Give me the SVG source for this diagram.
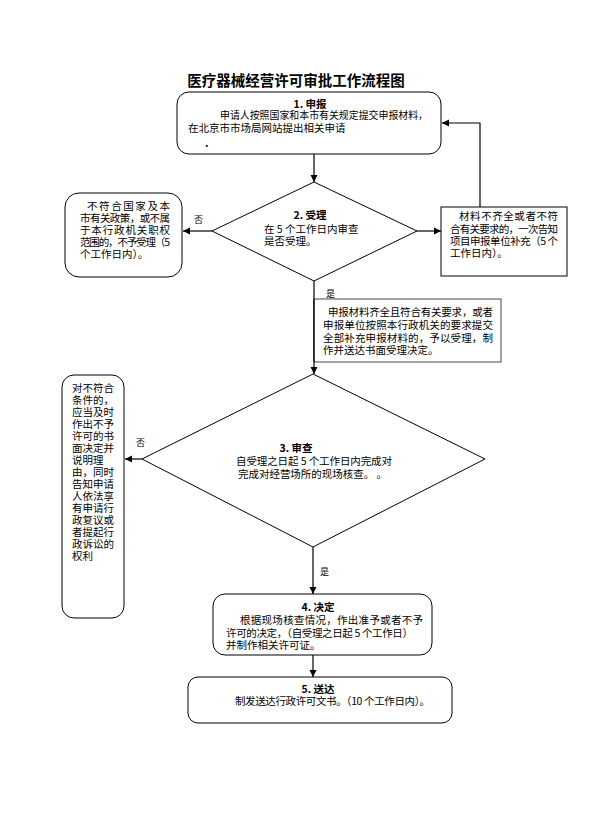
<svg xmlns="http://www.w3.org/2000/svg" width="590" height="838" viewBox="0 0 590 838">
<defs>
<marker id="ah" markerWidth="8" markerHeight="8" refX="7" refY="4" orient="auto" markerUnits="userSpaceOnUse">
<path d="M0,0.5 L7,4 L0,7.5 Z" fill="#000"/>
</marker>
<style>
.t{font-family:"Noto Sans CJK SC","Liberation Sans",sans-serif;font-size:10.5px;fill:#000}
.h{font-family:"Noto Sans CJK SC","Liberation Sans",sans-serif;font-size:10.5px;font-weight:bold;fill:#000}
.s{font-family:"Noto Sans CJK SC","Liberation Sans",sans-serif;font-size:9px;fill:#000}
.b{fill:#fff;stroke:#000;stroke-width:1}
.c{fill:none;stroke:#000;stroke-width:1.2}
.ca{fill:none;stroke:#000;stroke-width:1.2;marker-end:url(#ah)}
</style>
</defs>
<rect width="590" height="838" fill="#fff"/>
<text x="296" y="86" text-anchor="middle" style="font-family:'Noto Sans CJK SC',sans-serif;font-size:14.5px;font-weight:bold">医疗器械经营许可审批工作流程图</text>

<g id="connectors">
<line class="ca" x1="314" y1="154" x2="314" y2="182"/>
<line class="ca" x1="212" y1="231" x2="183" y2="231"/>
<line class="ca" x1="417" y1="231" x2="441" y2="231"/>
<polyline class="ca" points="480,207 480,123 442,123"/>
<line class="ca" x1="314" y1="281" x2="314" y2="374"/>
<line class="ca" x1="142" y1="459" x2="125" y2="459"/>
<line class="ca" x1="313" y1="547" x2="313" y2="594"/>
<line class="ca" x1="313" y1="655" x2="313" y2="677"/>
<text class="s" x="194" y="223">否</text>
<text class="s" x="326" y="297">是</text>
<text class="s" x="136" y="446">否</text>
<text class="s" x="320" y="575">是</text>
</g>

<g id="n1">
<rect class="b" x="177" y="92" width="264" height="62" rx="12"/>
<text class="h" x="310" y="108" text-anchor="middle">1. 申报</text>
<text class="t" x="220" y="119" textLength="208" lengthAdjust="spacingAndGlyphs">申请人按照国家和本市有关规定提交申报材料，</text>
<text class="t" x="188" y="132">在北京市市场局网站提出相关申请</text>
<text class="h" x="205" y="147">.</text>
</g>

<g id="n2">
<polygon class="b" points="314,182 417,231 314,281 212,231"/>
<text class="h" x="310" y="219" text-anchor="middle">2. 受理</text>
<text class="t" x="264" y="233">在 5 个工作日内审查</text>
<text class="t" x="264" y="245">是否受理。</text>
</g>

<g id="n_reject1">
<rect class="b" x="65" y="193" width="117" height="84" rx="14"/>
<text class="t" x="87" y="210" textLength="83">不符合国家及本</text>
<text class="t" x="80" y="222" textLength="90">市有关政策，或不属</text>
<text class="t" x="80" y="234" textLength="90">于本行政机关职权</text>
<text class="t" x="80" y="246" textLength="90">范围的，不予受理（5</text>
<text class="t" x="80" y="258">个工作日内）。</text>
</g>

<g id="n_supplement">
<rect class="b" x="441" y="207" width="126" height="69"/>
<text class="t" x="459" y="220" textLength="99">材料不齐全或者不符</text>
<text class="t" x="450" y="233" textLength="108">合有关要求的，一次告知</text>
<text class="t" x="450" y="245" textLength="108">项目申报单位补充（5 个</text>
<text class="t" x="450" y="257">工作日内）。</text>
</g>

<g id="n_accept">
<rect fill="#fff" stroke="#444" stroke-width="1" x="314" y="299" width="187" height="63"/>
<line class="c" x1="314" y1="299" x2="314" y2="362"/>
<text class="t" x="328" y="316" textLength="165">申报材料齐全且符合有关要求，或者</text>
<text class="t" x="323" y="329" textLength="170">申报单位按照本行政机关的要求提交</text>
<text class="t" x="323" y="342" textLength="170">全部补充申报材料的，予以受理，制</text>
<text class="t" x="323" y="354">作并送达书面受理决定。</text>
</g>

<g id="n3">
<polygon class="b" points="313,374 485,459 313,547 142,459"/>
<text class="h" x="296" y="452" text-anchor="middle">3. 审查</text>
<text class="t" x="236" y="465" textLength="156">自受理之日起 5 个工作日内完成对</text>
<text class="t" x="238" y="478" textLength="149">完成对经营场所的现场核查。 。</text>
</g>

<g id="n_reject2">
<rect class="b" x="62" y="375" width="62" height="243" rx="12"/>
<text class="t" x="72" y="392">对不符合</text>
<text class="t" x="72" y="404">条件的，</text>
<text class="t" x="72" y="416">应当及时</text>
<text class="t" x="72" y="428">作出不予</text>
<text class="t" x="72" y="440">许可的书</text>
<text class="t" x="72" y="452">面决定并</text>
<text class="t" x="72" y="464">说明理</text>
<text class="t" x="72" y="476">由，同时</text>
<text class="t" x="72" y="488">告知申请</text>
<text class="t" x="72" y="500">人依法享</text>
<text class="t" x="72" y="512">有申请行</text>
<text class="t" x="72" y="524">政复议或</text>
<text class="t" x="72" y="536">者提起行</text>
<text class="t" x="72" y="548">政诉讼的</text>
<text class="t" x="72" y="560">权利</text>
</g>

<g id="n4">
<rect class="b" x="213" y="594" width="219" height="61" rx="12"/>
<text class="h" x="318" y="611" text-anchor="middle">4. 决定</text>
<text class="t" x="240" y="624" textLength="183">根据现场核查情况，作出准予或者不予</text>
<text class="t" x="226" y="637" textLength="187">许可的决定，（自受理之日起 5 个工作日）</text>
<text class="t" x="226" y="649">并制作相关许可证。</text>
</g>

<g id="n5">
<rect class="b" x="188" y="677" width="264" height="46" rx="10"/>
<text class="h" x="318" y="693" text-anchor="middle">5. 送达</text>
<text class="t" x="235" y="705" textLength="195">制发送达行政许可文书。（10 个工作日内）。</text>
</g>
</svg>
